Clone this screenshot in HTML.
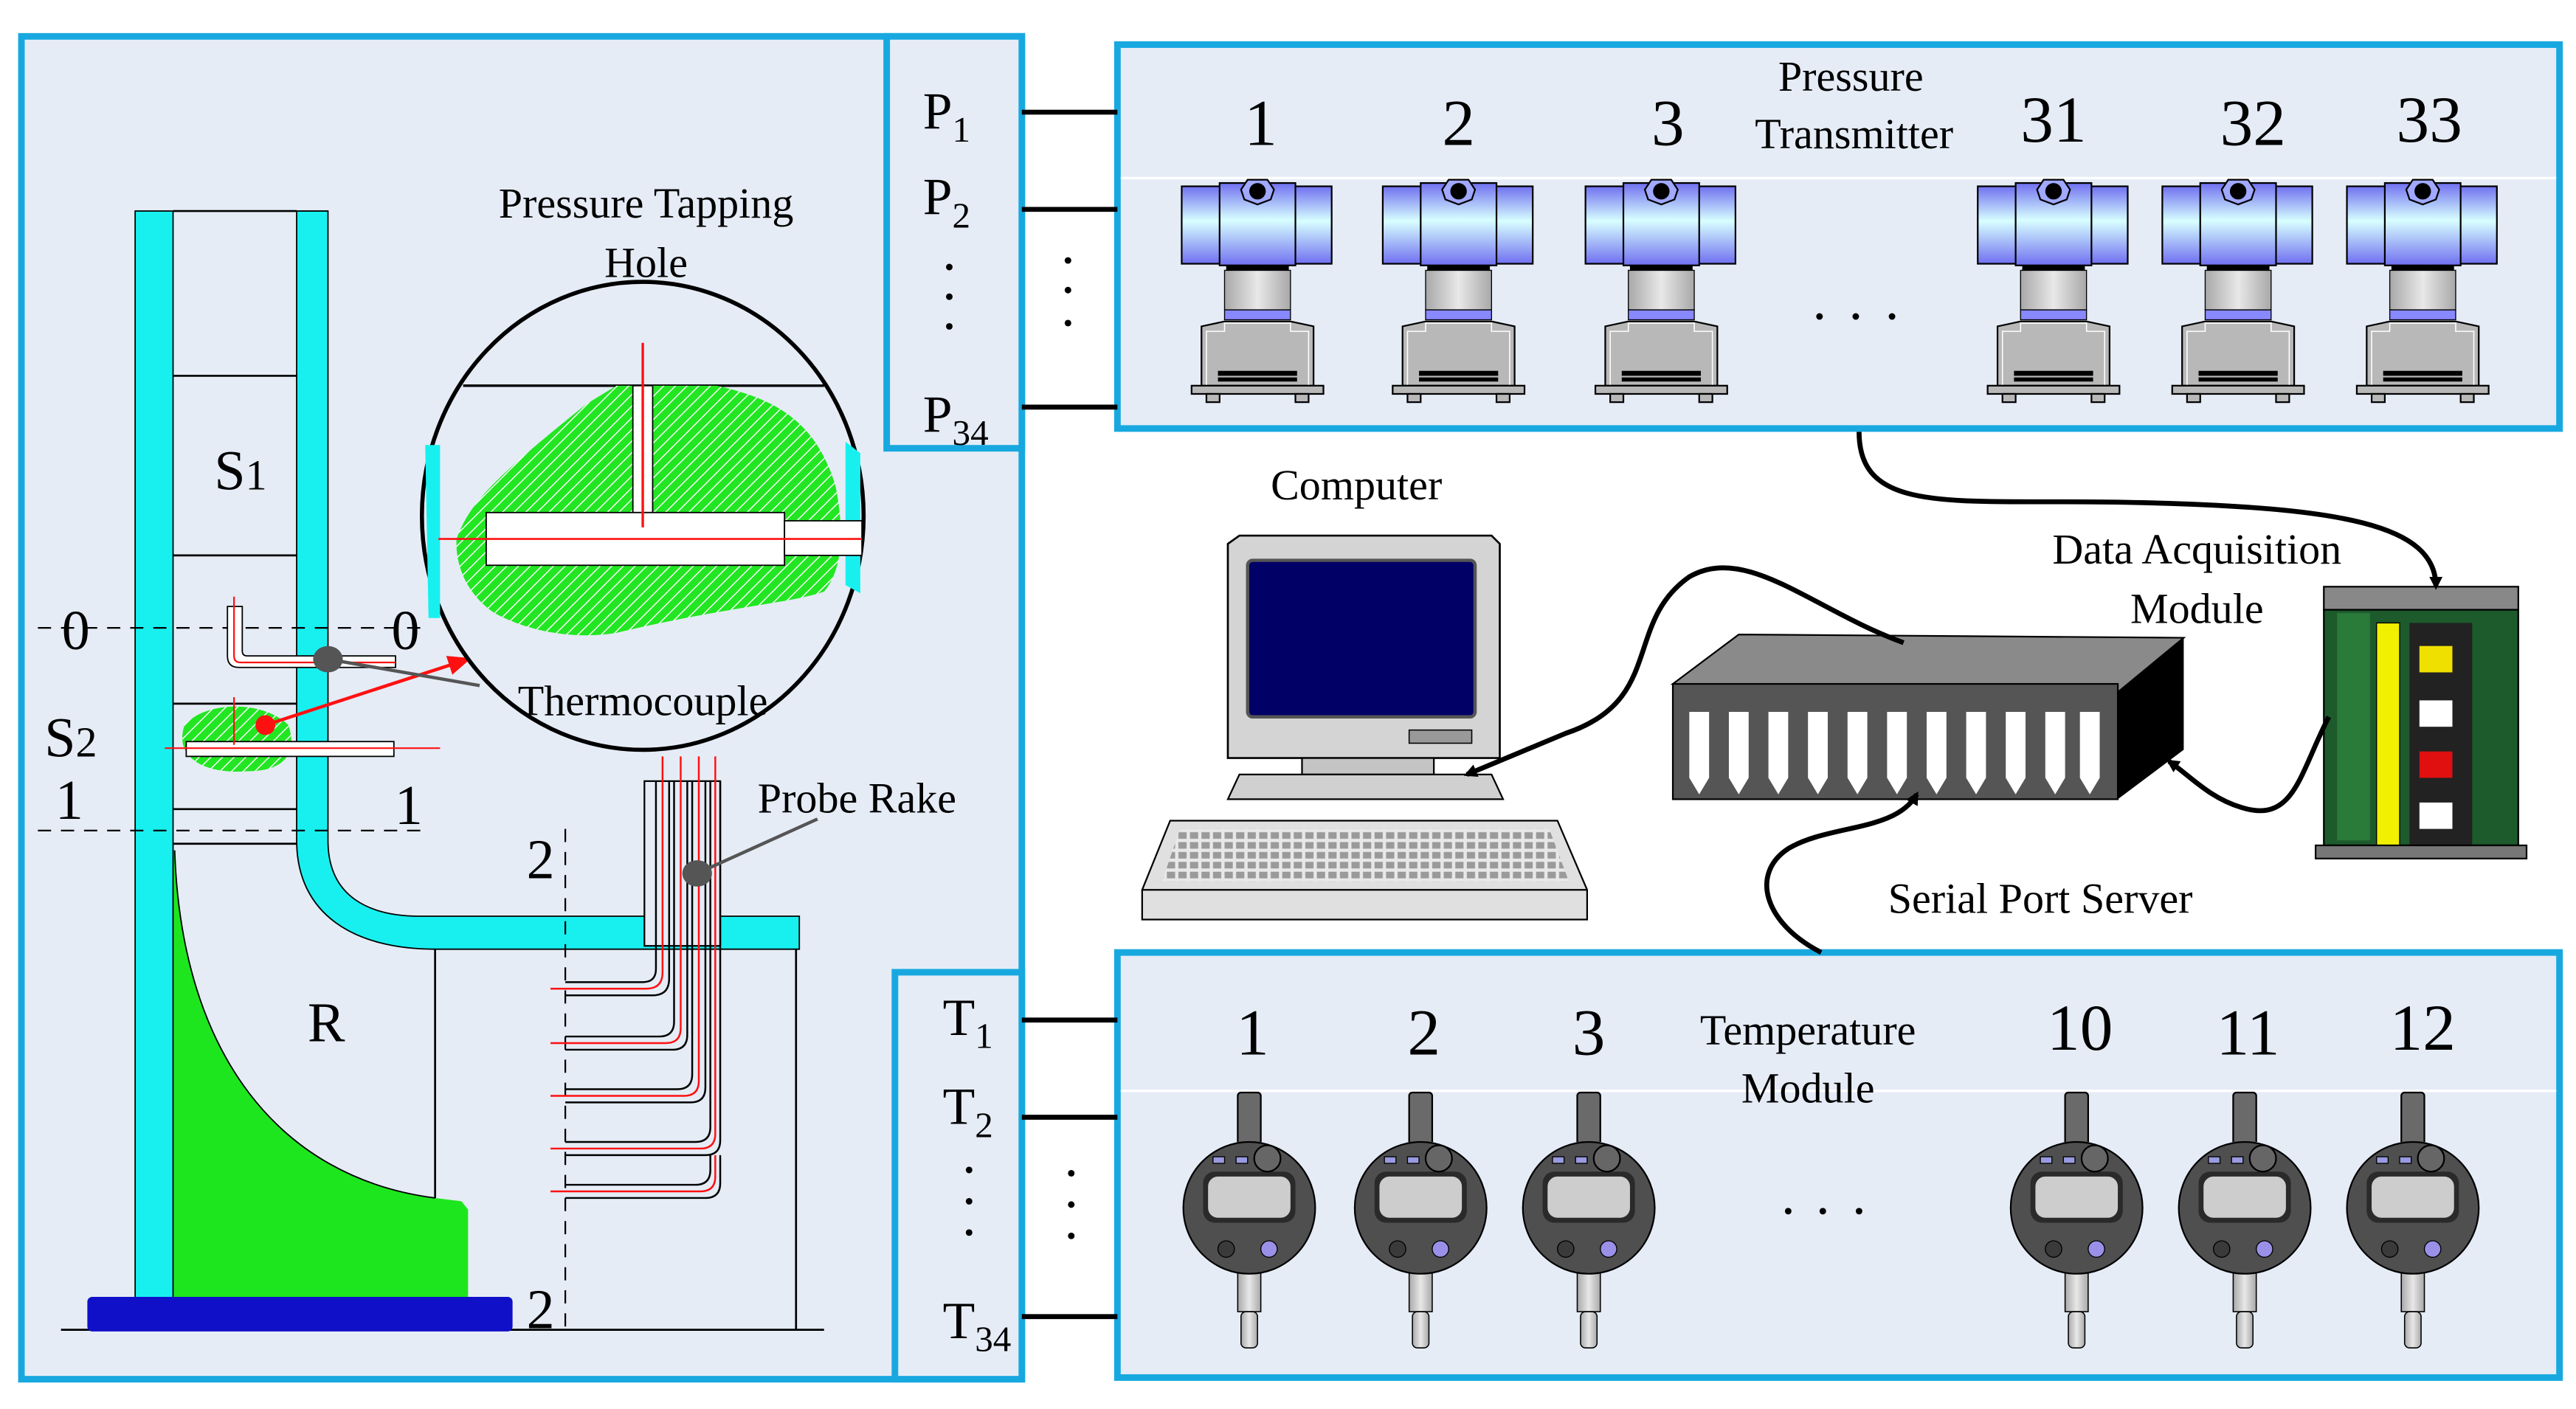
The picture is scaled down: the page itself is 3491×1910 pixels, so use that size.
<!DOCTYPE html>
<html><head><meta charset="utf-8"><style>
html,body{margin:0;padding:0;background:#fff;}
svg{display:block;}
text{font-family:"Liberation Serif",serif;fill:#000;}
</style></head><body>
<svg width="3491" height="1910" viewBox="0 0 1563 855" xmlns="http://www.w3.org/2000/svg">
<defs>
<linearGradient id="cyl" x1="0" y1="0" x2="0" y2="1">
<stop offset="0" stop-color="#7070f0"/><stop offset="0.45" stop-color="#d8ffff"/><stop offset="1" stop-color="#7070f0"/></linearGradient>
<linearGradient id="neck" x1="0" y1="0" x2="1" y2="0">
<stop offset="0" stop-color="#a8a8a8"/><stop offset="0.5" stop-color="#e8e8e8"/><stop offset="1" stop-color="#a8a8a8"/></linearGradient>
<pattern id="hatch" width="5" height="5" patternUnits="userSpaceOnUse" patternTransform="rotate(45)">
<rect width="5" height="5" fill="#22e622"/><line x1="0" y1="0" x2="0" y2="5" stroke="#ffffff" stroke-width="1.3"/></pattern>
<pattern id="keys" width="7" height="6" patternUnits="userSpaceOnUse">
<rect width="7" height="6" fill="#e8e8e8"/><rect x="1" y="1" width="5" height="4" fill="#9a9a9a"/></pattern>
<marker id="ah" markerWidth="8" markerHeight="8" refX="6" refY="4" orient="auto" markerUnits="userSpaceOnUse">
<path d="M0,0 L8,4 L0,8 Z" fill="#000"/></marker>
<marker id="ahr" markerWidth="14" markerHeight="12" refX="12" refY="6" orient="auto" markerUnits="userSpaceOnUse">
<path d="M0,0 L14,6 L0,12 Z" fill="#ff1010"/></marker>
<g id="tx">
<rect x="-46" y="113" width="91" height="47" fill="url(#cyl)" stroke="#000" stroke-width="1"/>
<rect x="-23" y="111" width="46" height="50" fill="url(#cyl)" stroke="#000" stroke-width="1"/>
<polygon points="-10,115 -6,109 6,109 10,115 8,121 0,124 -8,121" fill="#a0a8ff" stroke="#000"/>
<circle cx="0" cy="116" r="5" fill="#000"/>
<rect x="-19" y="161" width="38" height="3" fill="#000"/>
<rect x="-20" y="164" width="40" height="24" fill="url(#neck)" stroke="#000" stroke-width="0.6"/>
<rect x="-20" y="188" width="40" height="6" fill="#8888ff" stroke="#000" stroke-width="0.6"/>
<polygon points="-34,198 -20,195 20,195 34,198 34,234 -34,234" fill="#b8b8b8" stroke="#000" stroke-width="1"/>
<polyline points="-31,234 -31,201 -20,201 -20,196 20,196 20,201 31,201 31,234" fill="none" stroke="#fff" stroke-width="0.7"/>
<rect x="-24" y="225" width="48" height="3" fill="#000"/><rect x="-24" y="229" width="48" height="2.5" fill="#000"/>
<rect x="-40" y="234" width="80" height="5" fill="#b8b8b8" stroke="#000"/>
<rect x="-31" y="239" width="8" height="5" fill="#b8b8b8" stroke="#000"/>
<rect x="23" y="239" width="8" height="5" fill="#b8b8b8" stroke="#000"/>
</g>
<g id="gg">
<rect x="-7" y="663" width="14" height="32" rx="2" fill="#6a6a6a" stroke="#000"/>
<rect x="-8" y="693" width="16" height="3" fill="#cccccc"/>
<rect x="-7" y="772" width="14" height="24" fill="url(#neck)" stroke="#000" stroke-width="0.7"/>
<rect x="-5" y="796" width="10" height="22" rx="3" fill="url(#neck)" stroke="#000" stroke-width="0.7"/>
<circle cx="0" cy="733" r="40" fill="#4f4f4f" stroke="#000" stroke-width="1"/>
<rect x="-28" y="711" width="56" height="31" rx="7" fill="#2a2a2a"/>
<rect x="-25" y="714" width="50" height="25" rx="6" fill="#cdcdcd"/>
<rect x="-22" y="702" width="7" height="4" fill="#9a9ae0" stroke="#000" stroke-width="0.6"/>
<rect x="-8" y="702" width="7" height="4" fill="#9a9ae0" stroke="#000" stroke-width="0.6"/>
<circle cx="11" cy="703" r="8" fill="#666" stroke="#000"/>
<circle cx="-14" cy="758" r="5" fill="#3a3a3a" stroke="#000" stroke-width="0.6"/>
<circle cx="12" cy="758" r="5" fill="#9a90e8" stroke="#000" stroke-width="0.6"/>
</g>
</defs>

<rect width="1563" height="855" fill="#fff"/>
<!-- left panel -->
<rect x="13" y="22" width="607" height="815" fill="#e5ecf6" stroke="#18a8e0" stroke-width="4"/>
<rect x="538" y="22" width="82" height="250" fill="#e5ecf6" stroke="#18a8e0" stroke-width="4"/>
<rect x="543" y="590" width="77" height="247" fill="#e5ecf6" stroke="#18a8e0" stroke-width="4"/>
<!-- right panels -->
<rect x="678" y="27" width="875" height="233" fill="#e5ecf6" stroke="#18a8e0" stroke-width="4"/>
<rect x="678" y="578" width="875" height="258" fill="#e5ecf6" stroke="#18a8e0" stroke-width="4"/>
<line x1="680" y1="108" x2="1551" y2="108" stroke="#fff" stroke-width="1.5"/>
<line x1="680" y1="662" x2="1551" y2="662" stroke="#fff" stroke-width="1.5"/>

<!-- connection lines -->
<g stroke="#000" stroke-width="3">
<line x1="620" y1="68" x2="678" y2="68"/><line x1="620" y1="127" x2="678" y2="127"/><line x1="620" y1="247" x2="678" y2="247"/>
<line x1="620" y1="619" x2="678" y2="619"/><line x1="620" y1="678" x2="678" y2="678"/><line x1="620" y1="799" x2="678" y2="799"/>
</g>
<g font-size="32">
<text x="560" y="78">P<tspan font-size="22" dy="8">1</tspan></text>
<text x="560" y="130">P<tspan font-size="22" dy="8">2</tspan></text>
<text x="560" y="262">P<tspan font-size="22" dy="8">34</tspan></text>
<text x="572" y="628">T<tspan font-size="22" dy="8">1</tspan></text>
<text x="572" y="682">T<tspan font-size="22" dy="8">2</tspan></text>
<text x="572" y="812">T<tspan font-size="22" dy="8">34</tspan></text>
</g>
<g fill="#000">
<circle cx="576" cy="162" r="2"/><circle cx="576" cy="180" r="2"/><circle cx="576" cy="198" r="2"/>
<circle cx="648" cy="158" r="2"/><circle cx="648" cy="176" r="2"/><circle cx="648" cy="196" r="2"/>
<circle cx="588" cy="710" r="2"/><circle cx="588" cy="729" r="2"/><circle cx="588" cy="748" r="2"/>
<circle cx="650" cy="712" r="2"/><circle cx="650" cy="731" r="2"/><circle cx="650" cy="750" r="2"/>
<circle cx="1104" cy="192" r="2"/><circle cx="1126" cy="192" r="2"/><circle cx="1148" cy="192" r="2"/>
<circle cx="1085" cy="735" r="2"/><circle cx="1106" cy="735" r="2"/><circle cx="1128" cy="735" r="2"/>
</g>

<!-- transmitters -->
<use href="#tx" x="763"/><use href="#tx" x="885"/><use href="#tx" x="1008"/>
<use href="#tx" x="1246"/><use href="#tx" x="1358"/><use href="#tx" x="1470"/>
<g font-size="40" text-anchor="middle">
<text x="765" y="88">1</text><text x="885" y="88">2</text><text x="1012" y="88">3</text>
<text x="1246" y="86">31</text><text x="1367" y="88">32</text><text x="1474" y="86">33</text>
<text x="760" y="640">1</text><text x="864" y="640">2</text><text x="964" y="640">3</text>
<text x="1262" y="637">10</text><text x="1364" y="640">11</text><text x="1470" y="637">12</text>
</g>
<use href="#gg" x="758"/><use href="#gg" x="862"/><use href="#gg" x="964"/>
<use href="#gg" x="1260"/><use href="#gg" x="1362"/><use href="#gg" x="1464"/>

<g font-size="26" text-anchor="middle">
<text x="1123" y="55">Pressure</text><text x="1125" y="90">Transmitter</text>
<text x="1097" y="634">Temperature</text><text x="1097" y="669">Module</text>
<text x="823" y="303">Computer</text>
<text x="1333" y="342">Data Acquisition</text><text x="1333" y="378">Module</text>
<text x="1238" y="554">Serial Port Server</text>
</g>

<!-- computer -->
<path d="M745,330 L752,325 L905,325 L910,330 L910,460 L745,460 Z" fill="#d4d4d4" stroke="#000" stroke-width="1.2"/>
<rect x="757" y="340" width="138" height="95" rx="3" fill="#000066" stroke="#555" stroke-width="2"/>
<rect x="855" y="443" width="38" height="8" fill="#999" stroke="#000" stroke-width="0.7"/>
<rect x="790" y="460" width="80" height="10" fill="#c4c4c4" stroke="#000"/>
<path d="M745,485 L752,470 L905,470 L912,485 Z" fill="#d0d0d0" stroke="#000"/>
<path d="M693,540 L710,498 L945,498 L963,540 L963,558 L693,558 Z" fill="#e0e0e0" stroke="#000"/>
<path d="M705,535 L716,503 L940,503 L952,535 Z" fill="url(#keys)"/>
<line x1="693" y1="540" x2="963" y2="540" stroke="#000"/>

<!-- serial port server -->
<polygon points="1015,415 1055,385 1325,387 1285,420" fill="#8a8a8a" stroke="#000"/>
<polygon points="1285,420 1325,387 1325,455 1285,485" fill="#000"/>
<rect x="1015" y="415" width="270" height="70" fill="#555" stroke="#000"/>
<g fill="#fff">
<polygon points="1025,432 1037,432 1037,472 1031,482 1025,472"/>
<polygon points="1049,432 1061,432 1061,472 1055,482 1049,472"/>
<polygon points="1073,432 1085,432 1085,472 1079,482 1073,472"/>
<polygon points="1097,432 1109,432 1109,472 1103,482 1097,472"/>
<polygon points="1121,432 1133,432 1133,472 1127,482 1121,472"/>
<polygon points="1145,432 1157,432 1157,472 1151,482 1145,472"/>
<polygon points="1169,432 1181,432 1181,472 1175,482 1169,472"/>
<polygon points="1193,432 1205,432 1205,472 1199,482 1193,472"/>
<polygon points="1217,432 1229,432 1229,472 1223,482 1217,472"/>
<polygon points="1241,432 1253,432 1253,472 1247,482 1241,472"/>
<polygon points="1262,432 1274,432 1274,472 1268,482 1262,472"/>
</g>

<!-- DAQ -->
<rect x="1410" y="356" width="118" height="14" fill="#888" stroke="#000"/>
<rect x="1410" y="370" width="118" height="143" fill="#1d5a2c" stroke="#000"/>
<rect x="1418" y="372" width="20" height="138" fill="#2a7a3a"/>
<rect x="1442" y="378" width="14" height="135" fill="#f0f000" stroke="#000" stroke-width="0.6"/>
<rect x="1462" y="378" width="38" height="135" fill="#222"/>
<rect x="1468" y="392" width="20" height="16" fill="#f0e000"/>
<rect x="1468" y="425" width="20" height="16" fill="#fff"/>
<rect x="1468" y="456" width="20" height="16" fill="#e01010"/>
<rect x="1468" y="487" width="20" height="16" fill="#fff"/>
<rect x="1405" y="513" width="128" height="8" fill="#777" stroke="#000"/>

<!-- curved arrows -->
<g fill="none" stroke="#000" stroke-width="3" marker-end="url(#ah)">
<path d="M1128,262 C1128,315 1190,302 1300,305 C1420,308 1478,318 1478,356"/>
<path d="M1155,390 C1100,370 1060,330 1025,350 C985,378 1010,425 950,445 L890,470"/>
<path d="M1413,435 C1395,470 1392,500 1360,490 C1340,484 1328,470 1316,462"/>
<path d="M1105,578 C1070,560 1062,530 1085,515 C1110,500 1150,505 1163,482"/>
</g>

<!-- LEFT DIAGRAM -->
<!-- channel lines -->
<g stroke="#000" stroke-width="1.2">
<line x1="105" y1="128" x2="180" y2="128"/>
<line x1="105" y1="228" x2="180" y2="228"/>
<line x1="105" y1="337" x2="180" y2="337"/>
<line x1="105" y1="427" x2="180" y2="427"/>
<line x1="105" y1="491" x2="180" y2="491"/>
<line x1="105" y1="512" x2="180" y2="512"/>
<line x1="264" y1="576" x2="264" y2="727"/>
<line x1="483" y1="576" x2="483" y2="807"/>
<line x1="37" y1="807" x2="500" y2="807"/>
</g>
<!-- green body -->
<path d="M95,518 L106,516 C110,640 170,715 264,727 L280,729 L284,734 L284,788 L95,788 Z" fill="#1ee61e"/>
<path d="M106,516 C110,640 170,715 264,727" fill="none" stroke="#000" stroke-width="0.8"/>
<!-- cyan walls -->
<rect x="82" y="128" width="23" height="662" fill="#18f0f0" stroke="#000" stroke-width="0.8"/>
<path d="M180,128 L199,128 L199,510 C199,545 225,556 255,556 L485,556 L485,576 L264,576 C215,576 180,555 180,510 Z" fill="#18f0f0" stroke="#000" stroke-width="0.8"/>
<rect x="53" y="787" width="258" height="21" rx="3" fill="#1010c8"/>
<!-- dashed lines -->
<g stroke="#000" stroke-width="1" stroke-dasharray="8,6">
<line x1="23" y1="381" x2="259" y2="381"/>
<line x1="23" y1="504" x2="259" y2="504"/>
<line x1="343" y1="503" x2="343" y2="807"/>
</g>
<g font-size="34" text-anchor="middle">
<text x="46" y="394">0</text><text x="246" y="394">0</text>
<text x="42" y="497">1</text><text x="248" y="500">1</text>
<text x="328" y="533">2</text><text x="328" y="806">2</text>
<text x="198" y="632">R</text>
</g>
<text x="130" y="297" font-size="34">S<tspan font-size="26">1</tspan></text>
<text x="27" y="459" font-size="34">S<tspan font-size="26">2</tspan></text>

<!-- small pitot 0 -->
<path d="M138,368 L138,398 Q138,405 145,405 L240,405 L240,398 L150,398 Q147,398 147,395 L147,368 Z" fill="#fff" stroke="#000" stroke-width="0.8"/>
<path d="M142,362 L142,398 Q142,402 146,402 L240,402" fill="none" stroke="#ff1010" stroke-width="1"/>
<!-- small blob -->
<path d="M112,440 C125,425 160,425 175,440 C180,455 175,468 150,468 C125,470 105,460 112,440 Z" fill="url(#hatch)"/>
<rect x="113" y="450" width="126" height="9" fill="#fff" stroke="#000" stroke-width="0.8"/>
<line x1="100" y1="454" x2="267" y2="454" stroke="#ff1010" stroke-width="1"/>
<line x1="142" y1="423" x2="142" y2="452" stroke="#ff1010" stroke-width="1"/>
<circle cx="161" cy="440" r="6" fill="#ff1010"/>
<line x1="161" y1="440" x2="284" y2="400" stroke="#ff1010" stroke-width="2" marker-end="url(#ahr)"/>
<line x1="199" y1="400" x2="291" y2="416" stroke="#555" stroke-width="2"/>
<ellipse cx="199" cy="400" rx="9" ry="8" fill="#555"/>

<!-- zoom circle -->
<ellipse cx="390" cy="313" rx="134" ry="142" fill="#e5ecf6" stroke="#000" stroke-width="2.5"/>
<path d="M258,270 L267,270 L267,375 L260,375 Z" fill="#18f0f0"/>
<path d="M513,268 L522,275 L522,360 L513,355 Z" fill="#18f0f0"/>
<line x1="281" y1="234" x2="500" y2="234" stroke="#000" stroke-width="1.5"/>
<path d="M277,327 C285,305 300,290 356,245 L374,234 L435,234 C470,242 495,255 507,295 C512,320 512,345 500,359 C480,366 442,368 374,384 C350,388 322,384 300,372 C285,362 276,345 277,327 Z" fill="url(#hatch)"/>
<rect x="384" y="234" width="12" height="77" fill="#fff" stroke="#000" stroke-width="0.8"/>
<rect x="295" y="311" width="181" height="32" fill="#fff" stroke="#000" stroke-width="0.8"/>
<rect x="476" y="316" width="47" height="21" fill="#fff" stroke="#000" stroke-width="0.8"/>
<line x1="266" y1="327" x2="523" y2="327" stroke="#ff1010" stroke-width="1.2"/>
<line x1="390" y1="208" x2="390" y2="320" stroke="#ff1010" stroke-width="1.5"/>

<!-- probe rake -->
<rect x="391" y="474" width="46" height="100" fill="#e5ecf6" stroke="#000" stroke-width="1"/>
<g fill="none" stroke-width="1.1">
<path d="M398,474 L398,588 Q398,596 390,596 L343,596" stroke="#000"/>
<path d="M402,459 L402,590 Q402,600 392,600 L334,600" stroke="#ff1010"/>
<path d="M406,474 L406,594 Q406,604 396,604 L343,604" stroke="#000"/>
<path d="M409,474 L409,620 Q409,629 400,629 L343,629" stroke="#000"/>
<path d="M413,459 L413,624 Q413,633 404,633 L334,633" stroke="#ff1010"/>
<path d="M417,474 L417,628 Q417,637 408,637 L343,637" stroke="#000"/>
<path d="M420,474 L420,652 Q420,661 411,661 L343,661" stroke="#000"/>
<path d="M424,459 L424,656 Q424,665 415,665 L334,665" stroke="#ff1010"/>
<path d="M428,474 L428,660 Q428,669 419,669 L343,669" stroke="#000"/>
<path d="M431,474 L431,684 Q431,693 422,693 L343,693" stroke="#000"/>
<path d="M434,459 L434,688 Q434,697 425,697 L334,697" stroke="#ff1010"/>
<path d="M437,474 L437,692 Q437,701 428,701 L343,701" stroke="#000"/>
<path d="M437,701 L437,718 Q437,727 428,727 L343,727" stroke="#000"/>
<path d="M434,701 L434,714 Q434,723 425,723 L334,723" stroke="#ff1010"/>
<path d="M431,701 L431,710 Q431,719 422,719 L343,719" stroke="#000"/>
</g>
<line x1="423" y1="530" x2="496" y2="497" stroke="#555" stroke-width="2"/>
<ellipse cx="423" cy="530" rx="9" ry="8" fill="#555"/>

<g font-size="26" text-anchor="middle">
<text x="392" y="132">Pressure Tapping</text>
<text x="392" y="168">Hole</text>
<text x="390" y="434">Thermocouple</text>
<text x="520" y="493">Probe Rake</text>
</g>
</svg>
</body></html>
